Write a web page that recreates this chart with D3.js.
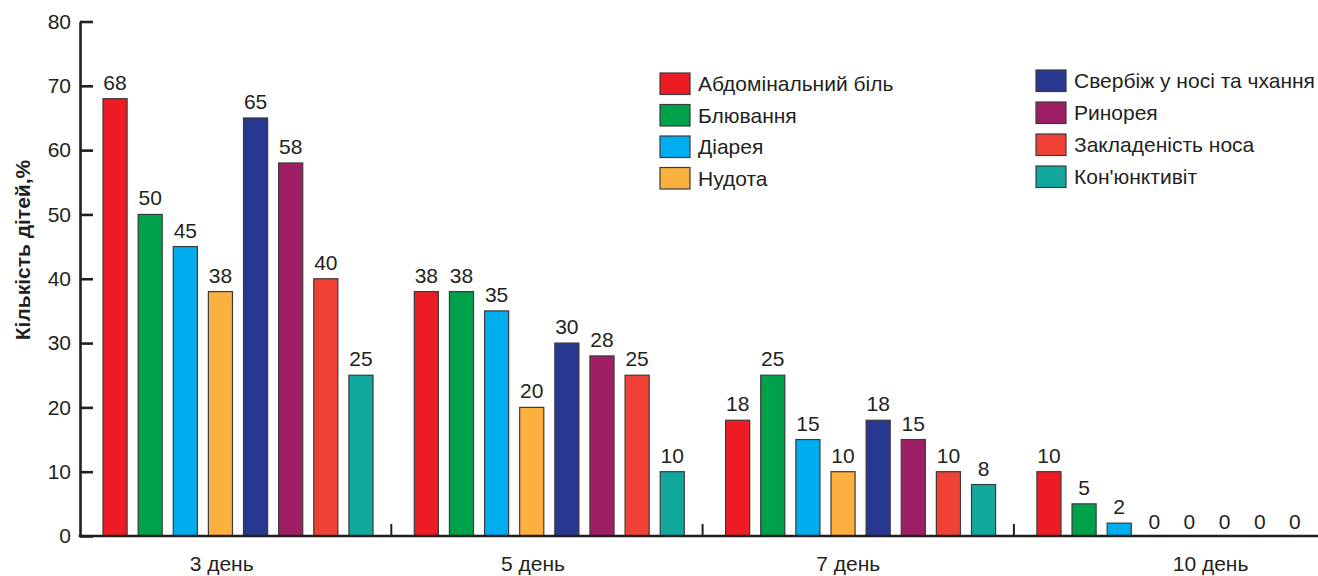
<!DOCTYPE html>
<html>
<head>
<meta charset="utf-8">
<script src="https://cdn.jsdelivr.net/npm/d3@7"></script>
<style>
  html, body { margin: 0; padding: 0; background: #fff; }
  svg { display: block; font-family: "Liberation Sans", Arial, Helvetica, sans-serif; }
</style>
</head>
<body>
<svg id="chart" width="1318" height="576"></svg>
<script>
// Days of observation (groups along the x axis)
const days = ["3 день", "5 день", "7 день", "10 день"];

// Symptoms (one bar per symptom in each group)
const symptoms = [
  "Абдомінальний біль",
  "Блювання",
  "Діарея",
  "Нудота",
  "Свербіж у носі та чхання",
  "Ринорея",
  "Закладеність носа",
  "Кон'юнктивіт"
];

// Share of children with each symptom, %, by day
const abdominalPain = [68, 38, 18, 10];
const vomiting      = [50, 38, 25, 5];
const diarrhea      = [45, 35, 15, 2];
const nausea        = [38, 20, 10, 0];
const nasalItch     = [65, 30, 18, 0];
const rhinorrhea    = [58, 28, 15, 0];
const congestion    = [40, 25, 10, 0];
const conjunctivitis = [25, 10, 8, 0];

const seriesValues = [abdominalPain, vomiting, diarrhea, nausea,
                      nasalItch, rhinorrhea, congestion, conjunctivitis];

const colors = ["#ED1C24", "#00A14B", "#00AEEF", "#FBB040",
                "#283891", "#9E1F63", "#EF4136", "#12A89D"];

const yTicks = [0, 10, 20, 30, 40, 50, 60, 70, 80];
const yTitle = "Кількість дітей,%";

// ---- layout ----
const svg = d3.select("#chart");
const axisX0 = 80, axisY0 = 536;
const bandW = 311.3;
const dark = "#231F20";
const fs = 21;

const x0 = d3.scaleBand()
  .domain(days)
  .range([axisX0, axisX0 + bandW * days.length])
  .padding(0);

const x1 = d3.scaleBand()
  .domain(symptoms)
  .range([23, 293])
  .paddingInner(0.314)
  .paddingOuter(0);

const y = d3.scaleLinear().domain([0, 80]).range([axisY0, 21.5]);

// bars
const rows = [];
days.forEach((d, i) => {
  symptoms.forEach((s, j) => {
    rows.push({ day: d, symptom: s, value: seriesValues[j][i], color: colors[j] });
  });
});

const g = svg.append("g");

g.selectAll("rect.bar")
  .data(rows.filter(r => r.value > 0))
  .join("rect")
  .attr("class", "bar")
  .attr("x", r => x0(r.day) + x1(r.symptom))
  .attr("y", r => y(r.value))
  .attr("width", x1.bandwidth())
  .attr("height", r => y(0) - y(r.value))
  .attr("fill", r => r.color)
  .attr("stroke", "#3a3a3a")
  .attr("stroke-width", 1.2);

// value labels
g.selectAll("text.val")
  .data(rows)
  .join("text")
  .attr("class", "val")
  .attr("x", r => x0(r.day) + x1(r.symptom) + x1.bandwidth() / 2)
  .attr("y", r => y(r.value) - (r.value > 0 ? 9 : 7))
  .attr("text-anchor", "middle")
  .attr("font-size", fs)
  .attr("fill", dark)
  .text(r => r.value);

// y axis (ticks point into the plot)
const yAxis = d3.axisLeft(y)
  .tickValues(yTicks)
  .tickSizeInner(-13)
  .tickSizeOuter(0)
  .tickPadding(9)
  .tickFormat(d3.format("d"));

const ya = svg.append("g")
  .attr("transform", `translate(${axisX0},0)`)
  .call(yAxis);
ya.select(".domain").attr("stroke", dark).attr("stroke-width", 2.6);
ya.selectAll(".tick line").attr("stroke", dark).attr("stroke-width", 2.6);
ya.selectAll(".tick text")
  .attr("font-size", fs)
  .attr("font-family", "Liberation Sans, Arial, sans-serif")
  .attr("fill", dark);

// x axis baseline
svg.append("line")
  .attr("x1", axisX0 - 1.3).attr("x2", 1318)
  .attr("y1", axisY0).attr("y2", axisY0)
  .attr("stroke", dark).attr("stroke-width", 2.4);

// group separators
svg.selectAll("line.sep")
  .data(days.slice(1))
  .join("line")
  .attr("class", "sep")
  .attr("x1", d => x0(d)).attr("x2", d => x0(d))
  .attr("y1", axisY0).attr("y2", axisY0 - 12)
  .attr("stroke", dark).attr("stroke-width", 2);

// day labels
const labelShift = [-14, -14, -10, 41];
svg.selectAll("text.day")
  .data(days)
  .join("text")
  .attr("class", "day")
  .attr("x", (d, i) => x0(d) + x0.bandwidth() / 2 + labelShift[i])
  .attr("y", 571)
  .attr("text-anchor", "middle")
  .attr("font-size", fs)
  .attr("fill", dark)
  .text(d => d);

// y title
svg.append("text")
  .attr("transform", "translate(30,250) rotate(-90)")
  .attr("text-anchor", "middle")
  .attr("font-size", 21)
  .attr("font-weight", "bold")
  .attr("fill", dark)
  .text(yTitle);

// legend: two columns of four
const legendCols = [
  { x: 660, y: 73, step: 31.5 },
  { x: 1036, y: 70, step: 32 }
];
symptoms.forEach((s, j) => {
  const col = legendCols[Math.floor(j / 4)];
  const row = j % 4;
  const ly = col.y + row * col.step;
  svg.append("rect")
    .attr("x", col.x).attr("y", ly)
    .attr("width", 30).attr("height", 21.5)
    .attr("fill", colors[j])
    .attr("stroke", "#3a3a3a").attr("stroke-width", 1.2);
  svg.append("text")
    .attr("x", col.x + 38).attr("y", ly + 18)
    .attr("font-size", fs)
    .attr("fill", dark)
    .text(s);
});
</script>
</body>
</html>
